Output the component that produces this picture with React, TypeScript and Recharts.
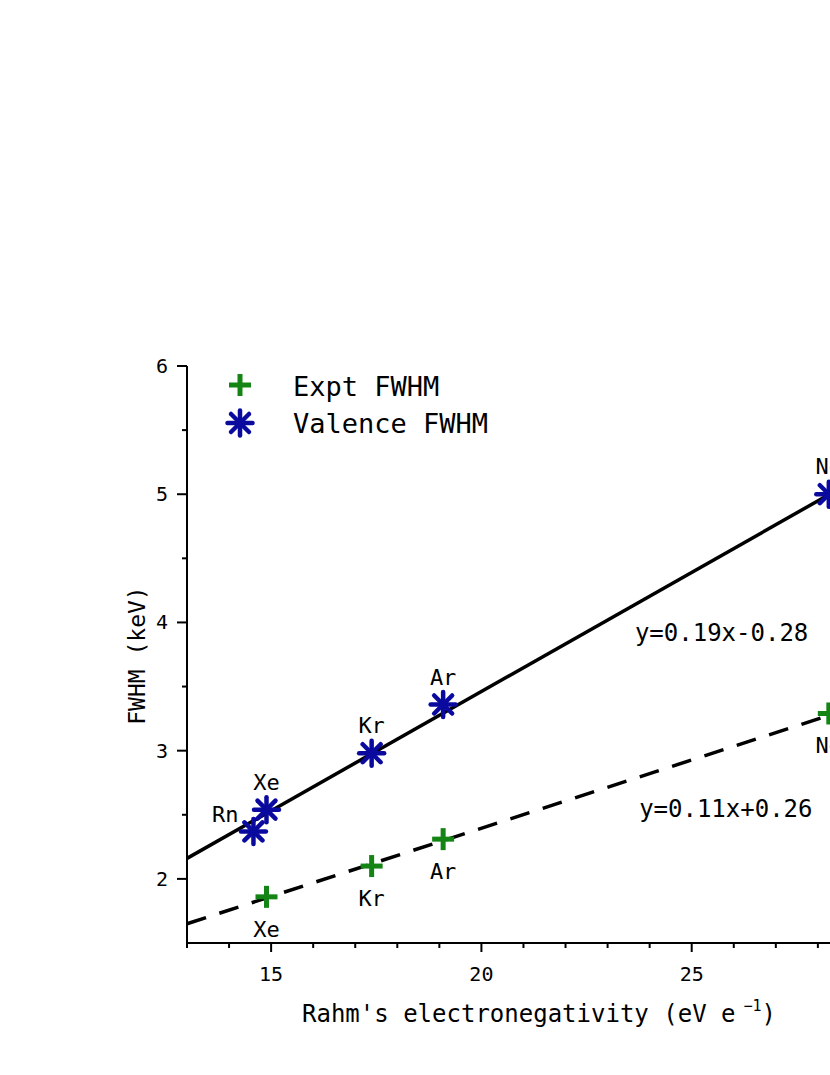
import React from 'react';
import {
  ComposedChart,
  XAxis,
  YAxis,
  Scatter,
  ReferenceLine,
  ReferenceDot,
  Legend,
  Label,
} from 'recharts';

const FONT = '"DejaVu Sans Mono", "Liberation Mono", monospace';
const BLUE = '#0a0a9e';
const GREEN = '#148414';

// Rahm's electronegativity (eV e^-1) per element
const elements = ['Rn', 'Xe', 'Kr', 'Ar', 'Ne'];
const rahmX = [14.58, 14.89, 17.39, 19.09, 28.26];

// Valence FWHM (keV)
const valenceY = [2.37, 2.54, 2.98, 3.36, 5.0];

// Experimental FWHM (keV)
const exptElements = ['Xe', 'Kr', 'Ar', 'Ne'];
const exptY = [1.86, 2.1, 2.31, 3.29];

// fitted lines (endpoints)
const valenceFit = [
  { x: 13, y: 2.16 },
  { x: 30, y: 5.32 },
];
const exptFit = [
  { x: 13, y: 1.65 },
  { x: 30, y: 3.46 },
];
const valenceEq = 'y=0.19x-0.28';
const exptEq = 'y=0.11x+0.26';

const xTicks = [13, 14, 15, 16, 17, 18, 19, 20, 21, 22, 23, 24, 25, 26, 27, 28, 29];
const yTicks = [2, 2.5, 3, 3.5, 4, 4.5, 5, 5.5, 6];

const valenceData = elements.map((name, i) => ({ name, x: rahmX[i], y: valenceY[i] }));
const exptData = exptElements.map((name, i) => ({
  name,
  x: rahmX[elements.indexOf(name)],
  y: exptY[i],
}));

const Asterisk = ({ cx, cy, r = 12.5 }: { cx: number; cy: number; r?: number }) => {
  const d = r * 0.72;
  return (
    <g stroke={BLUE} strokeWidth={4.5} strokeLinecap="round">
      <line x1={cx - r} y1={cy} x2={cx + r} y2={cy} />
      <line x1={cx} y1={cy - r} x2={cx} y2={cy + r} />
      <line x1={cx - d} y1={cy - d} x2={cx + d} y2={cy + d} />
      <line x1={cx - d} y1={cy + d} x2={cx + d} y2={cy - d} />
    </g>
  );
};

const Plus = ({ cx, cy, r = 11 }: { cx: number; cy: number; r?: number }) => (
  <g stroke={GREEN} strokeWidth={5}>
    <line x1={cx - r} y1={cy} x2={cx + r} y2={cy} />
    <line x1={cx} y1={cy - r} x2={cx} y2={cy + r} />
  </g>
);

const ValenceShape = (props: any) => {
  const { cx, cy, payload } = props;
  const left = payload.name === 'Rn';
  return (
    <g>
      <Asterisk cx={cx} cy={cy} />
      <text
        x={left ? cx - 15 : cx}
        y={left ? cy - 9 : cy - 20}
        textAnchor={left ? 'end' : 'middle'}
        fontFamily={FONT}
        fontSize={22}
        fill="#000"
      >
        {payload.name}
      </text>
    </g>
  );
};

const ExptShape = (props: any) => {
  const { cx, cy, payload } = props;
  return (
    <g>
      <Plus cx={cx} cy={cy} />
      <text x={cx} y={cy + 40} textAnchor="middle" fontFamily={FONT} fontSize={22} fill="#000">
        {payload.name}
      </text>
    </g>
  );
};

const XTick = (props: any) => {
  const { x, y, payload } = props;
  const v = payload.value;
  const major = v % 5 === 0;
  return (
    <g>
      <line x1={x} y1={y} x2={x} y2={y + (major ? 9 : 5)} stroke="#000" strokeWidth={2} />
      {major && (
        <text x={x} y={y + 38} textAnchor="middle" fontFamily={FONT} fontSize={20} fill="#000">
          {v}
        </text>
      )}
    </g>
  );
};

const YTick = (props: any) => {
  const { x, y, payload } = props;
  const v = payload.value;
  const major = Number.isInteger(v);
  return (
    <g>
      <line x1={x - (major ? 10 : 5)} y1={y} x2={x} y2={y} stroke="#000" strokeWidth={2} />
      {major && (
        <text x={x - 19} y={y + 7} textAnchor="end" fontFamily={FONT} fontSize={20} fill="#000">
          {v}
        </text>
      )}
    </g>
  );
};

const XTitle = (props: any) => {
  const { viewBox } = props;
  return (
    <text x={viewBox.x + 115} y={viewBox.y + 79} fontFamily={FONT} fontSize={24} fill="#000">
      {"Rahm's electronegativity (eV e"}
      <tspan dx={8} dy={-11} fontSize={15}>
        −1
      </tspan>
      <tspan dy={11} fontSize={24}>
        )
      </tspan>
    </text>
  );
};

const YTitle = (props: any) => {
  const { viewBox } = props;
  const x = viewBox.x + viewBox.width - 42;
  const y = viewBox.y + viewBox.height / 2 + 1;
  return (
    <text
      x={x}
      y={y}
      transform={`rotate(-90, ${x}, ${y})`}
      textAnchor="middle"
      fontFamily={FONT}
      fontSize={23}
      fill="#000"
    >
      FWHM (keV)
    </text>
  );
};

const EqLabel = (text: string) => (props: any) => {
  const { viewBox } = props;
  return (
    <text x={viewBox.x} y={viewBox.y} fontFamily={FONT} fontSize={24} fill="#000">
      {text}
    </text>
  );
};

const LegendContent = () => (
  <svg width={340} height={90}>
    <Plus cx={40} cy={25} />
    <text x={93} y={36} fontFamily={FONT} fontSize={27} fill="#000">
      Expt FWHM
    </text>
    <Asterisk cx={40} cy={63} />
    <text x={93} y={73} fontFamily={FONT} fontSize={27} fill="#000">
      Valence FWHM
    </text>
  </svg>
);

export default function App() {
  return (
    <div
      style={{
        position: 'absolute',
        left: 0,
        top: 0,
        width: 830,
        height: 1075,
        overflow: 'hidden',
        background: '#fff',
      }}
    >
      <ComposedChart
        width={1000}
        height={1075}
        margin={{ top: 366, right: 98, left: 127, bottom: 72 }}
      >
        <XAxis
          type="number"
          dataKey="x"
          domain={[13, 30]}
          ticks={xTicks}
          interval={0}
          allowDataOverflow
          height={60}
          axisLine={{ stroke: '#000', strokeWidth: 2 }}
          tickLine={false}
          tickSize={0}
          tickMargin={0}
          tick={<XTick />}
        >
          <Label content={<XTitle />} />
        </XAxis>
        <YAxis
          type="number"
          dataKey="y"
          domain={[1.5, 6]}
          ticks={yTicks}
          interval={0}
          allowDataOverflow
          width={60}
          axisLine={{ stroke: '#000', strokeWidth: 2 }}
          tickLine={false}
          tickSize={0}
          tickMargin={0}
          tick={<YTick />}
        >
          <Label content={<YTitle />} />
        </YAxis>
        <Legend
          layout="horizontal"
          verticalAlign="middle"
          align="center"
          content={<LegendContent />}
          wrapperStyle={{ position: 'absolute', left: 200, top: 360, width: 340, height: 90 }}
        />
        <Scatter
          name="Expt FWHM"
          data={exptData}
          dataKey="y"
          shape={<ExptShape />}
          isAnimationActive={false}
        />
        <Scatter
          name="Valence FWHM"
          data={valenceData}
          dataKey="y"
          shape={<ValenceShape />}
          isAnimationActive={false}
        />
        <ReferenceLine
          segment={valenceFit}
          stroke="#000"
          strokeWidth={3.5}
          ifOverflow="visible"
        />
        <ReferenceLine
          segment={exptFit}
          stroke="#000"
          strokeWidth={3.5}
          strokeDasharray="20 14"
          ifOverflow="visible"
        />
        <ReferenceDot
          x={23.65}
          y={3.856}
          r={0}
          fill="none"
          stroke="none"
          ifOverflow="visible"
          label={EqLabel(valenceEq)}
        />
        <ReferenceDot
          x={23.75}
          y={2.483}
          r={0}
          fill="none"
          stroke="none"
          ifOverflow="visible"
          label={EqLabel(exptEq)}
        />
      </ComposedChart>
    </div>
  );
}
